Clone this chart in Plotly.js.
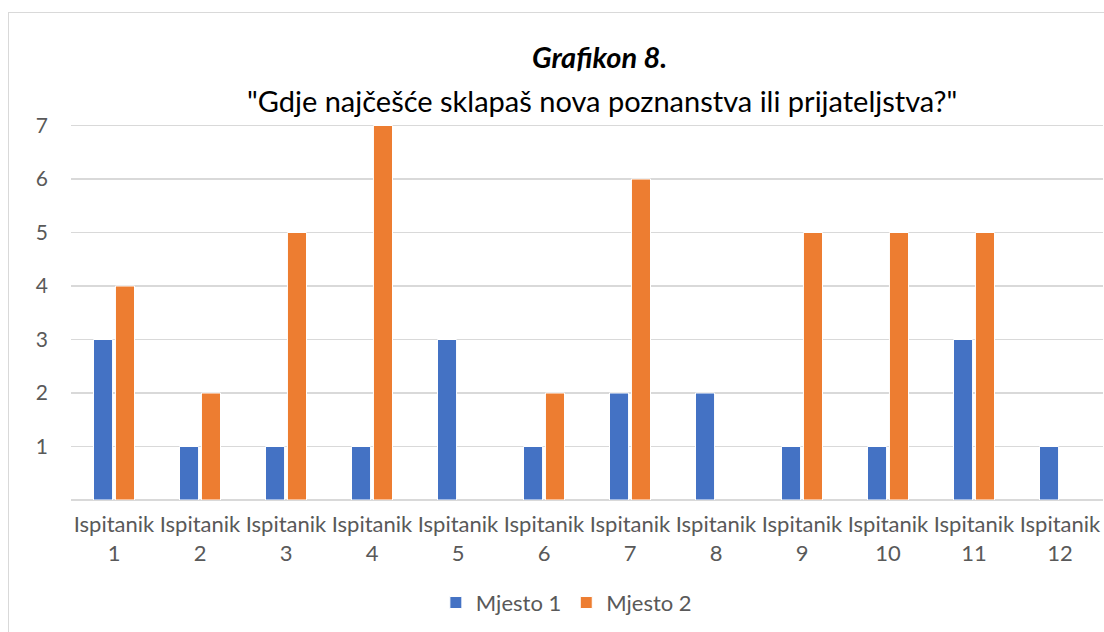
<!DOCTYPE html>
<html>
<head>
<meta charset="utf-8">
<script src="https://cdn.plot.ly/plotly-3.0.1.min.js"></script>
<style>
html,body{margin:0;padding:0;background:#fff;overflow:hidden;}
#chart{position:absolute;left:0;top:0;width:1104px;height:632px;}
#frame{position:absolute;left:8px;top:12px;width:1120px;height:660px;border:1px solid #d9d9d9;pointer-events:none;}
</style>
</head>
<body>
<div id="chart"></div>
<div id="frame"></div>
<script>
const categories = ["Ispitanik<br>1","Ispitanik<br>2","Ispitanik<br>3","Ispitanik<br>4","Ispitanik<br>5","Ispitanik<br>6","Ispitanik<br>7","Ispitanik<br>8","Ispitanik<br>9","Ispitanik<br>10","Ispitanik<br>11","Ispitanik<br>12"];
const mjesto1 = [3,1,1,1,3,1,2,2,1,1,3,1];
const mjesto2 = [4,2,5,7,null,2,6,null,5,5,5,null];
const seriesNames = ["Mjesto 1","Mjesto 2"];
const yTickVals = [0,1,2,3,4,5,6,7,8];
const yTickText = ["","1","2","3","4","5","6","7",""];
const titleLine1 = "Grafikon 8.";
const titleLine2 = "\"Gdje najčešće sklapaš nova poznanstva ili prijateljstva?\"";

const gray = "#595959";
const font = "Lato, 'Open Sans', sans-serif";

const traces = [
  {type:"bar", name:seriesNames[0], x:categories, y:mjesto1,
   marker:{color:"#4472C4", line:{color:"#ffffff", width:1}}},
  {type:"bar", name:seriesNames[1], x:categories, y:mjesto2,
   marker:{color:"#ED7D31", line:{color:"#ffffff", width:1}}}
];

const layout = {
  width:1104, height:632,
  margin:{l:71, r:1, t:72, b:132},
  paper_bgcolor:"#ffffff", plot_bgcolor:"#ffffff",
  font:{family:font, color:gray, size:22},
  barmode:"group", bargap:0.49, bargroupgap:0.13,
  showlegend:true,
  legend:{orientation:"h", x:0.48, xanchor:"center", y:-0.24, yanchor:"middle",
          font:{size:22, color:gray}, itemwidth:30, traceorder:"normal"},
  xaxis:{type:"category", showgrid:false, zeroline:false, showline:false,
         ticks:"", tickfont:{size:22, color:gray}, ticklabelstandoff:9, tickangle:0, automargin:false},
  yaxis:{range:[0,8], tickvals:yTickVals, ticktext:yTickText, showgrid:true,
         gridcolor:"#d9d9d9", gridwidth:1.3, zeroline:true, zerolinecolor:"#d9d9d9", zerolinewidth:2,
         showline:false, ticks:"", tickfont:{size:21, color:gray}, ticklabelstandoff:22, automargin:false},
  annotations:[
    {text:"<b><i>"+titleLine1+"</i></b>", xref:"paper", yref:"paper", x:0.512, y:(500-57)/428,
     xanchor:"center", yanchor:"middle", showarrow:false, font:{size:29, color:"#000000", family:font}},
    {text:titleLine2, xref:"paper", yref:"paper", x:0.515, y:(500-100)/428,
     xanchor:"center", yanchor:"middle", showarrow:false, font:{size:29, color:"#000000", family:font}}
  ]
};

Plotly.newPlot("chart", traces, layout, {displayModeBar:false, staticPlot:true});
</script>
</body>
</html>
